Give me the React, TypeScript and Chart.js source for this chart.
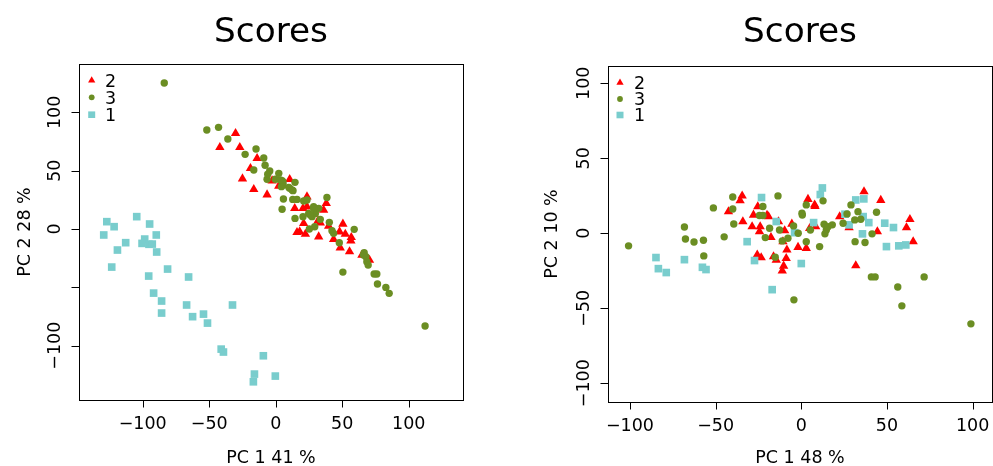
import { useEffect, useRef } from "react";
import { Chart, registerables } from "chart.js";
Chart.register(...registerables);

type Pt = [number, number];

// ---------- DATA ----------
const TITLE = "Scores";
const LEGEND_LABELS = ["2", "3", "1"];

const LEFT_X_TITLE = "PC 1 41 %";
const LEFT_Y_TITLE = "PC 2 28 %";
const RIGHT_X_TITLE = "PC 1 48 %";
const RIGHT_Y_TITLE = "PC 2 10 %";

const LEFT_X_TICKS = [-100, -50, 0, 50, 100];
const LEFT_X_TICK_LABELS = ["\u2212100", "\u221250", "0", "50", "100"];
const LEFT_Y_TICKS = [-100, -50, 0, 50, 100];
const LEFT_Y_TICK_LABELS = ["\u2212100", "", "0", "50", "100"];

const RIGHT_X_TICKS = [-100, -50, 0, 50, 100];
const RIGHT_X_TICK_LABELS = ["\u2212100", "\u221250", "0", "50", "100"];
const RIGHT_Y_TICKS = [-100, -50, 0, 50, 100];
const RIGHT_Y_TICK_LABELS = ["\u2212100", "\u221250", "0", "50", "100"];

// Left panel (PC1 vs PC2, 41% / 28%)
const left_g1: Pt[] = [
  [-127, 6.3], [-129.3, -5.1], [-121.5, 2], [-104.5, 10.6], [-94.8, 4.3], [-89.8, -5.1],
  [-112.8, -11.7], [-119, -18], [-123.3, -32.6], [-98.5, -8.6], [-100.5, -12.3], [-95.3, -13.1],
  [-92.8, -12.9], [-89.5, -19.7], [-95.5, -40.3], [-81.3, -34.3], [-91.8, -54.9], [-85.8, -61.7],
  [-85.8, -72], [-65.5, -41.1], [-67, -65.1], [-62.5, -75.1], [-54.3, -72.9], [-51.3, -80.6],
  [-32.5, -65.1], [-41, -102.9], [-39.3, -105.4], [-9.3, -108.6], [-16, -124.3], [-16.8, -130.9],
  [-0.3, -126],
];
const left_g2: Pt[] = [
  [-30.2, 82], [-42, 70], [-27, 70], [-14, 60.6], [-19, 52], [-25, 43.1], [-16.5, 34], [-6.5, 29.4],
  [-2.7, 41.4], [2.3, 36.9], [10.5, 42.6], [23.5, 27.7], [14.3, 17.7], [20.5, 17.7], [38, 22],
  [36, 16.3], [21, 4.9], [16, -2.9], [22.3, -4.3], [32.3, -6.6], [39.8, 2.6], [50.5, 4.3], [48, -2.3],
  [43.5, -8.9], [52.3, -4.3], [56.8, -7.1], [56.5, -10], [48.5, -16], [55.5, -19.4], [64.8, -22.3],
  [70.5, -26.6], [23.5, 19.1], [31.8, 7.1], [33.5, 5.4], [18, -2.3],
];
const left_g3: Pt[] = [
  [-83.8, 125.1], [-51.8, 84.9], [-43, 87.1], [-36, 77.1], [-23, 64], [-14.8, 68.6], [-16.5, 50.6],
  [-9, 60.9], [-8, 54.6], [-4.5, 49.7], [-6.5, 42.6], [-6, 46.9], [2.3, 47.7], [-0.3, 42.6],
  [4.8, 41.4], [5.5, 37.7], [4.3, 36.3], [10.5, 34.9], [13, 32.9], [14.5, 40], [5.8, 25.7],
  [4.8, 16.9], [12.8, 25.4], [16, 25.4], [14.5, 9.1], [21, 24], [23.5, 24.9], [20.5, 10.6],
  [24.8, 13.4], [28.5, 19.1], [29.8, 13.4], [32.3, 17.7], [27.3, 10.6], [33.5, 8.3], [38.5, 27.1],
  [29.3, 2], [25.3, 0], [40.3, 5.7], [42.3, -1.4], [43.5, -3.7], [47.8, -11.7], [59, -0.3],
  [50.5, -36.9], [66.5, -20.3], [67.8, -23.7], [68.5, -28], [69.5, -30.9], [74, -38.6], [76, -38.6],
  [76.5, -47.1], [82.8, -50], [85.3, -55.1], [112.3, -83.1], [5.5, 40.3], [9.8, 35.7], [12.3, 33.4],
  [26, 12], [28.5, 17.7], [3.5, 42], [66, -22.3],
];

// Right panel (PC1 vs PC2, 48% / 10%)
const right_g1: Pt[] = [
  [-84.8, -16.2], [-83.4, -23.6], [-78.8, -26.2], [-68.2, -17.6], [-57.7, -22.7], [-55.6, -24.2],
  [-31.6, -5.6], [-27.3, -18.2], [-23.2, 23.8], [-14.6, 7.8], [-17, -37.6], [0, -20.2], [-3.9, 0.4],
  [7.2, 7.1], [11.1, 25.8], [12.3, 30.2], [25.5, 12.7], [27.9, 5.6], [31.8, 22.2], [36.5, 22.9],
  [36.1, 11.1], [39.4, 7.1], [35.7, -0.4], [48.7, 6.7], [53.8, 3.8], [49.7, -8.9], [56.9, -8.4],
  [61, -7.8],
];
const right_g2: Pt[] = [
  [-34.5, 24.9], [-35.7, 21.8], [-42.5, 14.4], [-34.1, 7.8], [-27.9, 12.2], [-28.7, 4.4],
  [-24.4, 1.1], [-24, 4.4], [-25.4, 17.8], [-19.1, 11.1], [-17.7, -2.7], [-13.3, 7.8], [-9.7, 1.8],
  [-5.5, 6.2], [-25.7, -14.4], [-23.4, -16.2], [-16.2, -15.6], [-14.6, -17.8], [-8.4, -11.1],
  [-8.8, -16.7], [-10.3, -21.8], [-11.1, -25.1], [-10.7, -5.6], [-1.9, -9.3], [2.9, -10],
  [3.9, 22.7], [7.8, 18.9], [4.9, 3.3], [8.4, 4.4], [22.4, 11.1], [27.9, 3.8], [36.6, 27.8],
  [46.4, 22], [44.4, 1.1], [31.8, -21.6], [63.4, 9.3], [61.4, 3.8], [65.3, -5.6], [-20, 12], [8, 18],
];
const right_g3: Pt[] = [
  [-100.8, -8.4], [-68.2, 4.2], [-67.6, -3.8], [-62.6, -5.8], [-57.1, -4.7], [-56.9, -15.1],
  [-51.3, 16.9], [-45, -2.4], [-40, 24.2], [-40, 16.2], [-39.4, 6.2], [-24.4, 11.8], [-22.4, 11.8],
  [-22.4, 17.8], [-18.5, 3.3], [-21, -2.9], [-13.6, 24.9], [-12.7, 2.2], [-11.1, -5.1], [-7.8, -3.3],
  [-4.5, 4.9], [-1.8, 0], [0.4, 13.3], [0.6, 12.2], [2.9, -5.6], [2.9, 18.9], [5.3, 2.2],
  [10.7, -8.9], [12.7, 21.6], [13.3, 6], [14.6, 2.2], [13.8, -0.4], [15.6, 4.4], [18.1, 5.6],
  [24.4, 6.7], [26.7, 12.9], [29, 18.9], [33.1, 14.4], [31.2, 8.9], [34.7, 9.3], [31.4, -5.6],
  [37.2, -6.2], [41.3, -0.4], [43.9, 14], [40.9, -29.1], [43.1, -29.1], [56.3, -35.8], [58.7, -48.4],
  [71.7, -29.1], [99, -60.4], [-4.3, -44.4], [-15.2, -16],
];

// ---------- STYLE ----------
const FONT = '"DejaVu Sans", "Liberation Sans", sans-serif';
const RED = "#FF0000";
const GREEN = "#6B8E23";
const CYAN = "#79CDCD";
const CAP = 0.729;
const FS = 17.5;
const TITLE_FS = 34.3;

type PanelCfg = {
  g1: Pt[]; g2: Pt[]; g3: Pt[];
  xMin: number; xMax: number; yMin: number; yMax: number;
  xTicks: number[]; xTickLabels: string[]; yTicks: number[]; yTickLabels: string[];
  xTitle: string; yTitle: string;
  canvasLeft: number; canvasWidth: number;
  pad: { left: number; top: number; right: number; bottom: number };
  tickLabelOff: number; xTitleOff: number; yTickLabelOff: number; yTitleOff: number;
  legendX: number; legendRows: number[];
};

const PANELS: PanelCfg[] = [
  {
    g1: left_g1, g2: left_g2, g3: left_g3,
    xMin: -147.9, xMax: 140.8, yMin: -146.5, yMax: 141.4,
    xTicks: LEFT_X_TICKS, xTickLabels: LEFT_X_TICK_LABELS,
    yTicks: LEFT_Y_TICKS, yTickLabels: LEFT_Y_TICK_LABELS,
    xTitle: LEFT_X_TITLE, yTitle: LEFT_Y_TITLE,
    canvasLeft: 0, canvasWidth: 496,
    pad: { left: 79, top: 64, right: 33, bottom: 66 },
    tickLabelOff: 23, xTitleOff: 56.7, yTickLabelOff: 25, yTitleOff: 55.8,
    legendX: 12.7, legendRows: [16.5, 33.3, 50.7],
  },
  {
    g1: right_g1, g2: right_g2, g3: right_g3,
    xMin: -112.8, xMax: 111.3, yMin: -112.5, yMax: 111.5,
    xTicks: RIGHT_X_TICKS, xTickLabels: RIGHT_X_TICK_LABELS,
    yTicks: RIGHT_Y_TICKS, yTickLabels: RIGHT_Y_TICK_LABELS,
    xTitle: RIGHT_X_TITLE, yTitle: RIGHT_Y_TITLE,
    canvasLeft: 496, canvasWidth: 497,
    pad: { left: 112, top: 66, right: 1, bottom: 64 },
    tickLabelOff: 23, xTitleOff: 54.7, yTickLabelOff: 25, yTitleOff: 57.3,
    legendX: 12, legendRows: [16.7, 33, 49],
  },
];

function drawLegendMarker(ctx: CanvasRenderingContext2D, kind: string, x: number, y: number) {
  ctx.beginPath();
  if (kind === "triangle") {
    const r = 4.2;
    ctx.moveTo(x, y - r);
    ctx.lineTo(x + r * 0.866, y + r / 2);
    ctx.lineTo(x - r * 0.866, y + r / 2);
    ctx.closePath();
  } else if (kind === "circle") {
    ctx.arc(x, y, 2.9, 0, Math.PI * 2);
  } else {
    ctx.rect(x - 3.5, y - 3.3, 7, 6.6);
  }
  ctx.fill();
}

function makeDecor(cfg: PanelCfg) {
  return {
    id: "rDecor",
    afterDatasetsDraw(chart: any) {
      const { ctx, chartArea: a } = chart;
      const xs = chart.scales.x;
      const ys = chart.scales.y;
      ctx.save();
      ctx.strokeStyle = "#000";
      ctx.fillStyle = "#000";
      ctx.lineWidth = 1;
      // box
      ctx.strokeRect(a.left + 0.5, a.top + 0.5, a.right - a.left, a.bottom - a.top);

      const fs = FS;
      // x axis ticks
      ctx.beginPath();
      cfg.xTicks.forEach((v) => {
        const px = Math.round(xs.getPixelForValue(v)) + 0.5;
        ctx.moveTo(px, a.bottom);
        ctx.lineTo(px, a.bottom + 7.5);
      });
      ctx.stroke();
      ctx.font = `${fs}px ${FONT}`;
      ctx.textAlign = "center";
      ctx.textBaseline = "alphabetic";
      cfg.xTicks.forEach((v, i) => {
        const t = cfg.xTickLabels[i];
        if (t) ctx.fillText(t, xs.getPixelForValue(v), a.bottom + cfg.tickLabelOff + (fs * CAP) / 2);
      });
      // x title
      ctx.fillText(cfg.xTitle, (a.left + a.right) / 2, a.bottom + cfg.xTitleOff + (fs * CAP) / 2);

      // y axis ticks
      ctx.beginPath();
      cfg.yTicks.forEach((v) => {
        const py = Math.round(ys.getPixelForValue(v)) + 0.5;
        ctx.moveTo(a.left, py);
        ctx.lineTo(a.left - 7.5, py);
      });
      ctx.stroke();
      cfg.yTicks.forEach((v, i) => {
        const t = cfg.yTickLabels[i];
        if (!t) return;
        ctx.save();
        ctx.translate(a.left - cfg.yTickLabelOff, ys.getPixelForValue(v));
        ctx.rotate(-Math.PI / 2);
        ctx.fillText(t, 0, (fs * CAP) / 2);
        ctx.restore();
      });
      // y title
      ctx.save();
      ctx.translate(a.left - cfg.yTitleOff, (a.top + a.bottom) / 2);
      ctx.rotate(-Math.PI / 2);
      ctx.fillText(cfg.yTitle, 0, (fs * CAP) / 2);
      ctx.restore();

      // main title
      ctx.font = `${TITLE_FS}px ${FONT}`;
      ctx.fillText(TITLE, (a.left + a.right) / 2, 42);

      // legend
      const kinds = ["triangle", "circle", "rect"];
      const cols = [RED, GREEN, CYAN];
      ctx.font = `${fs}px ${FONT}`;
      ctx.textAlign = "left";
      LEGEND_LABELS.forEach((lab, i) => {
        const y = a.top + cfg.legendRows[i];
        ctx.fillStyle = cols[i];
        drawLegendMarker(ctx, kinds[i], a.left + cfg.legendX, y);
        ctx.fillStyle = "#000";
        ctx.fillText(lab, a.left + 26, y + (fs * CAP) / 2);
      });
      ctx.restore();
    },
  };
}

function toXY(pts: Pt[]) {
  return pts.map(([x, y]) => ({ x, y }));
}

function Panel({ cfg }: { cfg: PanelCfg }) {
  const ref = useRef<HTMLCanvasElement>(null);
  useEffect(() => {
    if (!ref.current) return;
    const chart = new Chart(ref.current, {
      type: "scatter",
      data: {
        datasets: [
          { label: "3", data: toXY(cfg.g3), backgroundColor: GREEN, pointStyle: "circle", pointRadius: 3.7, borderWidth: 0, order: 0 },
          { label: "1", data: toXY(cfg.g1), backgroundColor: CYAN, pointStyle: "rect", pointRadius: 5.4, borderWidth: 0, order: 1 },
          { label: "2", data: toXY(cfg.g2), backgroundColor: RED, pointStyle: "triangle", pointRadius: 5.4, borderWidth: 0, order: 2 },
        ] as any,
      },
      options: {
        animation: false,
        responsive: false,
        devicePixelRatio: 1,
        events: [],
        layout: { padding: cfg.pad, autoPadding: false },
        scales: {
          x: { type: "linear", min: cfg.xMin, max: cfg.xMax, display: false },
          y: { type: "linear", min: cfg.yMin, max: cfg.yMax, display: false },
        },
        plugins: {
          legend: { display: false },
          tooltip: { enabled: false },
          title: { display: false },
        },
      } as any,
      plugins: [makeDecor(cfg)],
    });
    return () => chart.destroy();
  }, [cfg]);
  return (
    <canvas
      ref={ref}
      width={cfg.canvasWidth}
      height={466}
      style={{ position: "absolute", left: cfg.canvasLeft, top: 0, width: cfg.canvasWidth, height: 466 }}
    />
  );
}

export default function App() {
  return (
    <div style={{ position: "absolute", left: 0, top: 0, width: 993, height: 466, background: "#fff", overflow: "hidden" }}>
      {PANELS.map((p, i) => (
        <Panel key={i} cfg={p} />
      ))}
    </div>
  );
}
